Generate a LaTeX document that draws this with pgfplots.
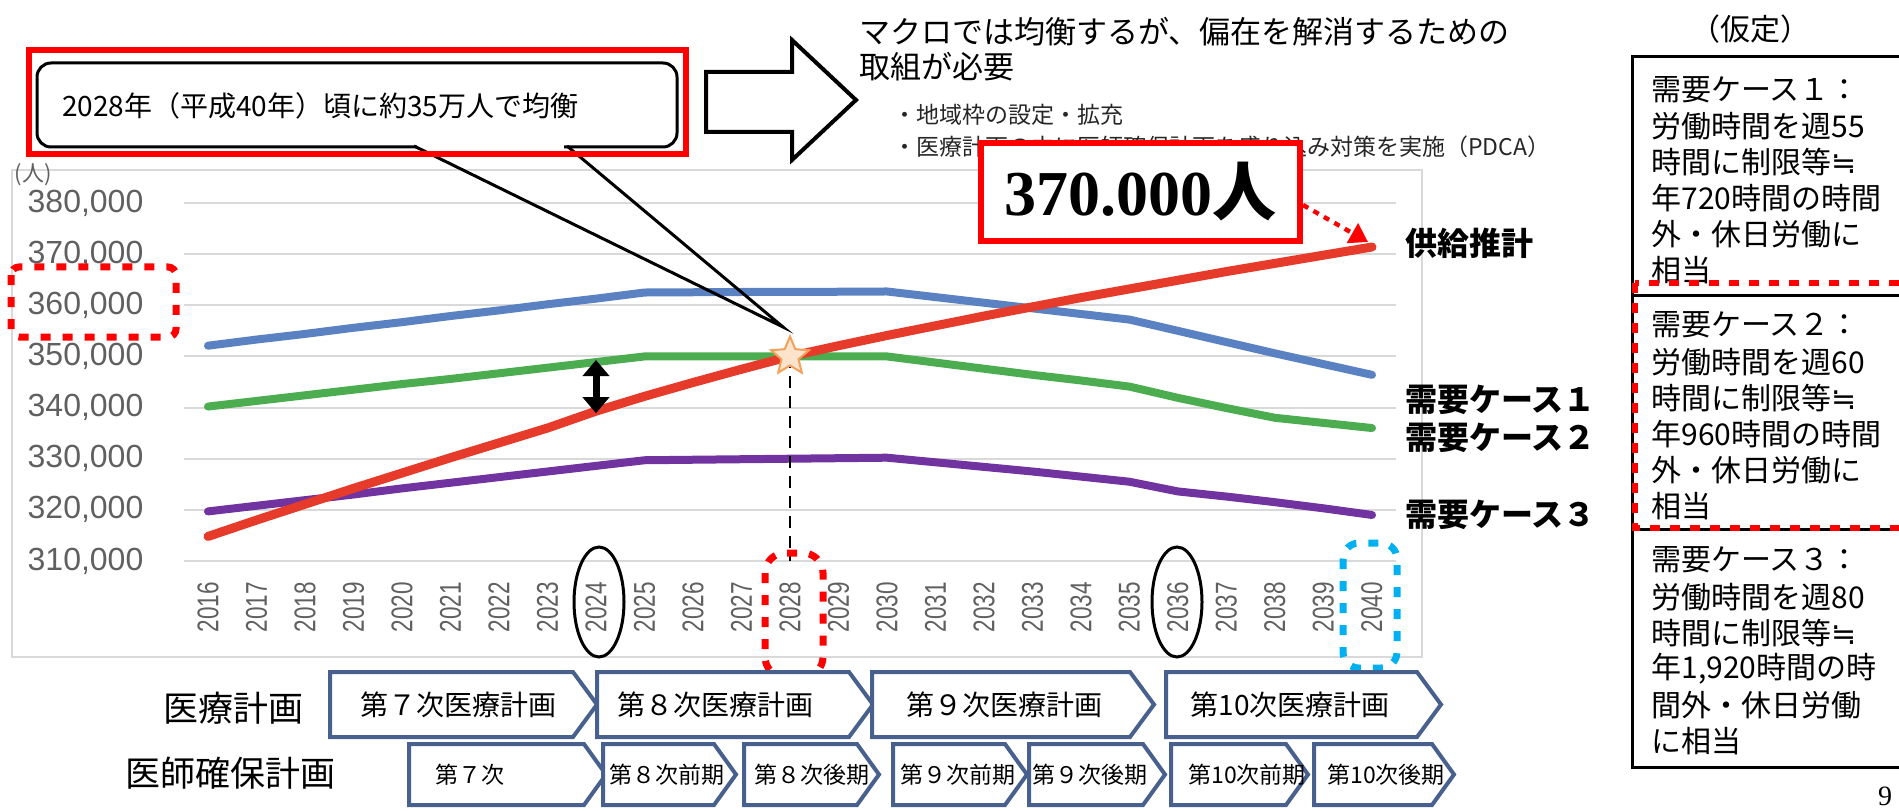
\documentclass[border=0pt]{standalone}
\usepackage{fontspec}
\usepackage{graphicx}
\usepackage{pgfplots}
\pgfplotsset{compat=1.18}
\usetikzlibrary{arrows.meta}
\setmainfont{Liberation Sans}
\newfontfamily\jp{Noto Sans CJK JP}
\newfontfamily\djv{DejaVu Sans}
\newfontfamily\ser{Liberation Serif}
\newcommand\fs[1]{\fontsize{#1}{#1}\selectfont}
\newcommand\xl[1]{\scalebox{0.75}[1]{#1}}
\newcommand\approxeq{{\djv ≒}}
\definecolor{cblue}{HTML}{5A82C2}
\definecolor{cgreen}{HTML}{4CAD50}
\definecolor{cpurple}{HTML}{7033A0}
\definecolor{cred}{HTML}{E63A2A}
\definecolor{gridc}{HTML}{D9D9D9}
\definecolor{tickc}{HTML}{606060}
\definecolor{chevc}{HTML}{48608E}
\definecolor{starfill}{HTML}{FCE4CC}
\definecolor{starline}{HTML}{F2A05A}
\definecolor{skyb}{HTML}{00B0F0}
\pgfdeclareplotmark{fstar}{%
 \pgfpathmoveto{\pgfpointpolar{90}{\pgfplotmarksize}}%
 \pgfpathlineto{\pgfpointpolar{126}{0.45\pgfplotmarksize}}%
 \pgfpathlineto{\pgfpointpolar{162}{\pgfplotmarksize}}%
 \pgfpathlineto{\pgfpointpolar{198}{0.45\pgfplotmarksize}}%
 \pgfpathlineto{\pgfpointpolar{234}{\pgfplotmarksize}}%
 \pgfpathlineto{\pgfpointpolar{270}{0.45\pgfplotmarksize}}%
 \pgfpathlineto{\pgfpointpolar{306}{\pgfplotmarksize}}%
 \pgfpathlineto{\pgfpointpolar{342}{0.45\pgfplotmarksize}}%
 \pgfpathlineto{\pgfpointpolar{18}{\pgfplotmarksize}}%
 \pgfpathlineto{\pgfpointpolar{54}{0.45\pgfplotmarksize}}%
 \pgfpathclose
 \pgfusepathqfillstroke}
\newcommand\chev[5]{\draw[chevc, line width=2pt, fill=white, line join=miter] (#1,#3) -- ({#2-#5},#3) -- (#2,{(#3+#4)/2}) -- ({#2-#5},#4) -- (#1,#4) -- cycle;}
\begin{document}
\begin{tikzpicture}
\useasboundingbox (0,0) rectangle (949.5pt,405pt);
\clip (0,0) rectangle (949.5pt,405pt);
% chart area border
\begin{scope}[shift={(0pt,405pt)},x=0.5pt,y=-0.5pt]
\draw[gridc, line width=1pt] (12,170) rectangle (1422,657);
\end{scope}
\begin{axis}[
  at={(91.875pt,124.5pt)}, anchor=south west,
  scale only axis, width=606.25pt, height=179pt,
  xmin=2015.5, xmax=2040.5, ymin=310000, ymax=380000,
  clip=false,
  axis line style={draw=none},
  major tick length=0pt,
  ymajorgrids, major grid style={gridc, line width=1pt},
  ytick={310000,320000,330000,340000,350000,360000,370000,380000},
  yticklabels={{310,000},{320,000},{330,000},{340,000},{350,000},{360,000},{370,000},{380,000}},
  yticklabel style={font=\fs{16}, text=tickc, anchor=east, inner sep=0pt},
  yticklabel shift=20pt,
  xtick={2016,2017,...,2040},
  xticklabels={\xl{2016},\xl{2017},\xl{2018},\xl{2019},\xl{2020},\xl{2021},\xl{2022},\xl{2023},\xl{2024},\xl{2025},\xl{2026},\xl{2027},\xl{2028},\xl{2029},\xl{2030},\xl{2031},\xl{2032},\xl{2033},\xl{2034},\xl{2035},\xl{2036},\xl{2037},\xl{2038},\xl{2039},\xl{2040}},
  xticklabel style={font=\fs{15}, text=tickc, rotate=90, anchor=east, inner sep=0pt},
  xticklabel shift=10.5pt,
  scaled y ticks=false,
]
% demand case 1
\addplot[cblue, line width=4pt, line join=round, line cap=round] coordinates {
(2016,352100)(2017,353300)(2018,354400)(2019,355600)(2020,356700)(2021,357900)(2022,359000)(2023,360200)(2024,361300)(2025,362500)(2026,362550)(2027,362600)(2028,362600)(2029,362650)(2030,362700)(2031,361600)(2032,360500)(2033,359400)(2034,358300)(2035,357200)(2036,355000)(2037,352800)(2038,350600)(2039,348500)(2040,346400)};
% demand case 2
\addplot[cgreen, line width=4pt, line join=round, line cap=round] coordinates {
(2016,340200)(2017,341300)(2018,342400)(2019,343500)(2020,344600)(2021,345600)(2022,346700)(2023,347800)(2024,348900)(2025,350000)(2026,350000)(2027,350000)(2028,350000)(2029,350000)(2030,350000)(2031,348800)(2032,347600)(2033,346400)(2034,345300)(2035,344100)(2036,341900)(2037,339900)(2038,338000)(2039,337000)(2040,336000)};
% demand case 3
\addplot[cpurple, line width=4pt, line join=round, line cap=round] coordinates {
(2016,319700)(2017,320800)(2018,321900)(2019,323000)(2020,324200)(2021,325300)(2022,326400)(2023,327500)(2024,328600)(2025,329700)(2026,329800)(2027,329900)(2028,330000)(2029,330100)(2030,330200)(2031,329300)(2032,328400)(2033,327500)(2034,326500)(2035,325500)(2036,323600)(2037,322600)(2038,321500)(2039,320300)(2040,319000)};
% supply
\addplot[cred, line width=4.5pt, line join=round, line cap=round] coordinates {
(2016,314800)(2017,318000)(2018,321100)(2019,324200)(2020,327200)(2021,330200)(2022,333100)(2023,336000)(2024,339300)(2025,342200)(2026,344900)(2027,347500)(2028,350000)(2029,352100)(2030,354100)(2031,356000)(2032,357900)(2033,359700)(2034,361500)(2035,363200)(2036,364900)(2037,366600)(2038,368200)(2039,369800)(2040,371400)};
\draw[black, line width=1pt, dash pattern=on 6pt off 4pt] (axis cs:2028,350000) -- (axis cs:2028,310000);
\addplot[only marks, mark=fstar, mark size=10pt, mark options={fill=starfill, draw=starline, line width=1pt}] coordinates {(2028,350000)};
\draw[black, line width=3.5pt, {Triangle[width=13pt,length=8pt]}-{Triangle[width=13pt,length=8pt]}] (axis cs:2024,349300) -- (axis cs:2024,338900);
\end{axis}
\begin{scope}[shift={(0pt,405pt)},x=0.5pt,y=-0.5pt]
% y unit
\node[font=\jp\fs{11}, text=tickc] at (33,175) {(人)};
% callout box
\draw[black, line width=1.5pt, rounded corners=7pt, fill=white] (37,63) rectangle (677,147);
\draw[white, line width=2.5pt] (417,147) -- (564,147);
\draw[black, line width=1.5pt] (414,146) -- (783,327) -- (567,146);
\node[font=\jp\fs{14}, anchor=west] at (55,106) {2028年（平成40年）頃に約35万人で均衡};
\draw[red, line width=3pt] (29,50) rectangle (686,154);
% block arrow
\draw[black, line width=2pt, fill=white, line join=miter] (706,72) -- (792,72) -- (792,40) -- (856,100) -- (792,160) -- (792,132) -- (706,132) -- cycle;
\node[font=\jp\fs{15.5}, anchor=west, inner sep=0pt] at (859,32) {マクロでは均衡するが、偏在を解消するための};
\node[font=\jp\fs{15.5}, anchor=west, inner sep=0pt] at (859,67) {取組が必要};
\node[font=\jp\fs{11.5}, anchor=west, inner sep=0pt, text=black!85] at (893,115) {・地域枠の設定・拡充};
\node[font=\jp\fs{11.5}, anchor=west, inner sep=0pt, text=black!85] at (893,147) {・医療計画の中に医師確保計画を盛り込み対策を実施（PDCA）};
% 370.000 box
\draw[red, line width=3pt, fill=white] (981,143) rectangle (1300,241);
\node[font=\ser\bfseries\fs{32}, inner sep=0pt] at (1140,192) {370.000{\jp\bfseries 人}};
\draw[red, line width=2.2pt, dash pattern=on 3pt off 3pt, -{Triangle[width=11pt,length=9pt]}] (1303,205) -- (1368,242);
% series labels
\node[font=\jp\bfseries\fs{16}, anchor=west, inner sep=0pt] at (1405,243) {供給推計};
\node[font=\jp\bfseries\fs{16}, anchor=west, inner sep=0pt] at (1405,400) {需要ケース１};
\node[font=\jp\bfseries\fs{16}, anchor=west, inner sep=0pt] at (1405,438) {需要ケース２};
\node[font=\jp\bfseries\fs{16}, anchor=west, inner sep=0pt] at (1405,515) {需要ケース３};
% highlight marks
\draw[red, line width=3.5pt, dash pattern=on 5pt off 6pt, rounded corners=4pt] (11,267) rectangle (176,337);
\draw[black, line width=1.5pt] (599,602) ellipse [x radius=25, y radius=55];
\draw[black, line width=1.5pt] (1177,602) ellipse [x radius=25, y radius=55];
\draw[red, line width=3.5pt, dash pattern=on 5pt off 6pt, rounded corners=10pt] (765,553) rectangle (823,677);
\draw[skyb, line width=3.5pt, dash pattern=on 5pt off 6pt, rounded corners=8pt] (1343,543) rectangle (1397,668);
% assumption boxes
\node[font=\jp\fs{15}] at (1750,29) {（仮定）};
\draw[black, line width=1.5pt] (1632,57) rectangle (1910,767);
\draw[black, line width=1.5pt] (1632,295) -- (1910,295);
\draw[black, line width=1.5pt] (1632,529) -- (1910,529);
\begin{scope}[every node/.style={font=\jp\fs{15}, anchor=west, inner sep=0pt}]
\node at (1651,90) {需要ケース１：};
\node at (1651,126) {労働時間を週55};
\node at (1651,162) {時間に制限等\approxeq};
\node at (1651,198) {年720時間の時間};
\node at (1651,234) {外・休日労働に};
\node at (1651,270) {相当};
\node at (1651,325) {需要ケース２：};
\node at (1651,362) {労働時間を週60};
\node at (1651,398) {時間に制限等\approxeq};
\node at (1651,434) {年960時間の時間};
\node at (1651,470) {外・休日労働に};
\node at (1651,506) {相当};
\node at (1651,560) {需要ケース３：};
\node at (1651,597) {労働時間を週80};
\node at (1651,633) {時間に制限等\approxeq};
\node at (1651,669) {年1,920時間の時};
\node at (1651,705) {間外・休日労働};
\node at (1651,741) {に相当};
\end{scope}
\draw[red, line width=3pt, dash pattern=on 5pt off 5pt] (1635,283) rectangle (1912,528);
% plan rows
\node[font=\jp\fs{17.5}] at (233,708) {医療計画};
\node[font=\jp\fs{17.5}] at (230,773) {医師確保計画};
\chev{330}{597}{672}{737}{24}
\chev{597}{873}{672}{737}{24}
\chev{872}{1154}{672}{737}{24}
\chev{1166}{1441}{672}{737}{24}
\begin{scope}[every node/.style={font=\jp\fs{14}, inner sep=0pt}]
\node at (458,705) {第７次医療計画};
\node at (715,705) {第８次医療計画};
\node at (1004,705) {第９次医療計画};
\node at (1290,705) {第10次医療計画};
\end{scope}
\chev{409}{606}{744}{805}{22}
\chev{603}{736}{744}{805}{22}
\chev{744}{879}{744}{805}{22}
\chev{893}{1027}{744}{805}{22}
\chev{1029}{1165}{744}{805}{22}
\chev{1171}{1308}{744}{805}{22}
\chev{1314}{1454}{744}{805}{22}
\begin{scope}[every node/.style={font=\jp\fs{11.5}, inner sep=0pt}]
\node at (470,775) {第７次};
\node at (667,775) {第８次前期};
\node at (812,775) {第８次後期};
\node at (958,775) {第９次前期};
\node at (1090,775) {第９次後期};
\node at (1247,775) {第10次前期};
\node at (1386,775) {第10次後期};
\end{scope}
\node[font=\ser\fs{14}, anchor=south, inner sep=0pt] at (1885,806) {9};
\end{scope}
\end{tikzpicture}
\end{document}
